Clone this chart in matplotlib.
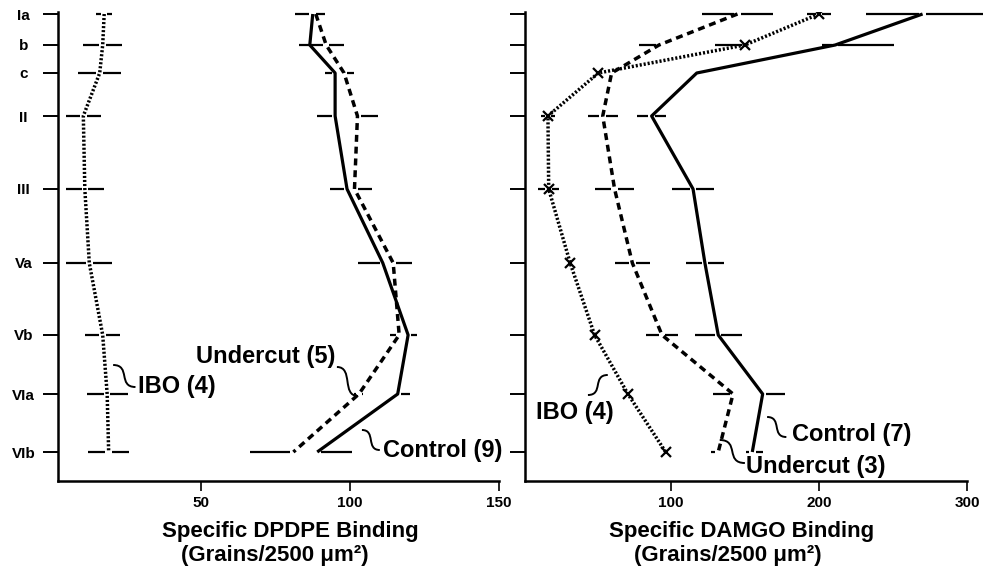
import matplotlib
matplotlib.use("Agg")
import matplotlib.pyplot as plt
from matplotlib.path import Path
from matplotlib.patches import PathPatch

plt.rcParams['font.family'] = ['Liberation Sans', 'DejaVu Sans']
plt.rcParams['lines.scale_dashes'] = False

# cortical layers and their depth (relative units, top = 0)
layers = ["Ia", "b", "c", "II", "III", "Va", "Vb", "VIa", "VIb"]
depth = [0, 31, 59, 102, 175, 249, 321, 380, 438]

# DPDPE binding (left panel)
dp_control = [87.5, 86.5, 95, 95, 99, 111, 119.5, 116, 89]
dp_control_lo = [6, 0, 3.5, 6, 5.7, 8.3, 0, 0, 0]
dp_control_hi = [4, 0, 0, 0, 0, 0, 3, 4, 11.7]
dp_undercut = [88.5, 92, 98, 102.5, 101.5, 114.5, 116.5, 103, 81]
dp_undercut_lo = [0, 9, 0, 0, 0, 0, 3, 1.5, 14.5]
dp_undercut_hi = [0, 6, 3.5, 7, 6, 6.3, 0, 1.5, 0]
dp_ibo = [17.5, 17, 16, 10.5, 11, 12.5, 17, 18.5, 19]
dp_ibo_err = [2.7, 6.5, 7.3, 5.9, 6.4, 7.7, 5.8, 6.9, 6.9]

# DAMGO binding (right panel)
dm_control = [270, 211, 117.5, 87, 115, 123, 132, 162, 155]
dm_control_lo = [38.5, 9, 0, 10, 14, 13, 16, 0, 4]
dm_control_hi = [40.5, 40, 0, 10, 14, 13, 16, 15, 7]
dm_undercut = [145, 92, 60, 54, 62, 74, 94, 142, 132]
dm_undercut_lo = [24, 13.5, 0, 10, 13, 12, 11, 13.5, 5]
dm_undercut_hi = [24, 0, 0, 10, 13, 12, 11, 0, 0]
dm_ibo = [200, 150, 51, 17, 17.5, 32, 48.5, 71, 96.5]
dm_ibo_lo = [8, 20, 0, 5, 7, 0, 0, 0, 0]
dm_ibo_hi = [8, 0, 0, 5, 7, 0, 0, 0, 0]

solid = dict(color="black", lw=2.3, ls="-", solid_capstyle="butt")
dashed = dict(color="black", lw=2.5, ls=(0, (5, 3.5)), dash_capstyle="butt")
dotted = dict(color="black", lw=2.5, ls=(0, (1.5, 1.4)), dash_capstyle="butt")


def err_arms(ax, xs, ys, lo, hi, gap):
    for x, y, l, h in zip(xs, ys, lo, hi):
        if l > gap:
            ax.plot([x - l, x - gap], [y, y], color="black", lw=1.6,
                    solid_capstyle="butt", clip_on=False)
        if h > gap:
            ax.plot([x + gap, x + h], [y, y], color="black", lw=1.6,
                    solid_capstyle="butt", clip_on=False)


def squiggle(ax, p0, p1):
    (x0, y0), (x1, y1) = p0, p1
    dx = x1 - x0
    verts = [(x0, y0), (x0 + 0.8 * dx, y0), (x0 + 0.2 * dx, y1), (x1, y1)]
    path = Path(verts, [Path.MOVETO, Path.CURVE4, Path.CURVE4, Path.CURVE4])
    ax.add_patch(PathPatch(path, fc="none", ec="black", lw=1.4, clip_on=False))


fig = plt.figure(figsize=(9.92, 5.87), dpi=100)
axL = fig.add_axes([58 / 992, 1 - 481 / 587, (499 - 58) / 992, (481 - 12) / 587])
axR = fig.add_axes([525 / 992, 1 - 481 / 587, (967 - 525) / 992, (481 - 12) / 587])

# left panel
axL.plot(dp_ibo, depth, **dotted)
axL.plot(dp_undercut, depth, **dashed)
axL.plot(dp_control, depth, **solid)
err_arms(axL, dp_ibo, depth, dp_ibo_err, dp_ibo_err, 1.1)
err_arms(axL, dp_undercut, depth, dp_undercut_lo, dp_undercut_hi, 1.1)
err_arms(axL, dp_control, depth, dp_control_lo, dp_control_hi, 1.1)

# right panel
axR.plot(dm_ibo, depth, marker="x", ms=7, mew=1.6, mec="black", **dotted)
axR.plot(dm_undercut, depth, **dashed)
axR.plot(dm_control, depth, **solid)
err_arms(axR, dm_ibo, depth, dm_ibo_lo, dm_ibo_hi, 2.2)
err_arms(axR, dm_undercut, depth, dm_undercut_lo, dm_undercut_hi, 2.2)
err_arms(axR, dm_control, depth, dm_control_lo, dm_control_hi, 2.2)

# series labels: (text, anchor, squiggle start, squiggle end, alignment)
left_labels = [
    ("IBO (4)", (29, 373), (20.5, 351), (28, 373), "left"),
    ("Undercut (5)", (95, 343), (95.6, 353), (102.7, 382), "right"),
    ("Control (9)", (111, 436), (104, 416), (110, 436), "left"),
]
right_labels = [
    ("IBO (4)", (8.8, 398), (57.4, 361), (44, 381), "left"),
    ("Control (7)", (182, 421), (165, 403), (178, 423), "left"),
    ("Undercut (3)", (151, 453), (133, 426), (150, 449), "left"),
]
for ax, labs in ((axL, left_labels), (axR, right_labels)):
    for txt, pos, s0, s1, ha in labs:
        ax.text(pos[0], pos[1], txt, fontsize=17, fontweight="bold",
                ha=ha, va="center")
        squiggle(ax, s0, s1)

for ax in (axL, axR):
    ax.set_ylim(467, -2)
    ax.spines["top"].set_visible(False)
    ax.spines["right"].set_visible(False)
    ax.spines["left"].set_linewidth(1.8)
    ax.spines["bottom"].set_linewidth(1.8)
    ax.set_yticks(depth)
    ax.tick_params(axis="y", direction="out", length=11, width=1.4)
    ax.tick_params(axis="x", direction="out", length=7, width=1.2, pad=4,
                   labelsize=11)

axL.set_xlim(2, 150)
axL.set_xticks([50, 100, 150])
axL.set_yticklabels(layers, fontsize=11, fontweight="bold")
for lab in axL.get_yticklabels():
    lab.set_horizontalalignment("center")
axL.tick_params(axis="y", pad=14)

axR.set_xlim(1.5, 300)
axR.set_xticks([100, 200, 300])
axR.set_yticklabels([])

for ax in (axL, axR):
    for lab in ax.get_xticklabels():
        lab.set_fontweight("bold")

fig.text(290 / 992, 1 - 531 / 587, "Specific DPDPE Binding", fontsize=16,
         fontweight="bold", ha="center", va="center")
fig.text(275 / 992, 1 - 555 / 587, "(Grains/2500 μm²)", fontsize=16,
         fontweight="bold", ha="center", va="center")
fig.text(742 / 992, 1 - 531 / 587, "Specific DAMGO Binding", fontsize=16,
         fontweight="bold", ha="center", va="center")
fig.text(728 / 992, 1 - 555 / 587, "(Grains/2500 μm²)", fontsize=16,
         fontweight="bold", ha="center", va="center")

fig.savefig("out.png", dpi=100)
